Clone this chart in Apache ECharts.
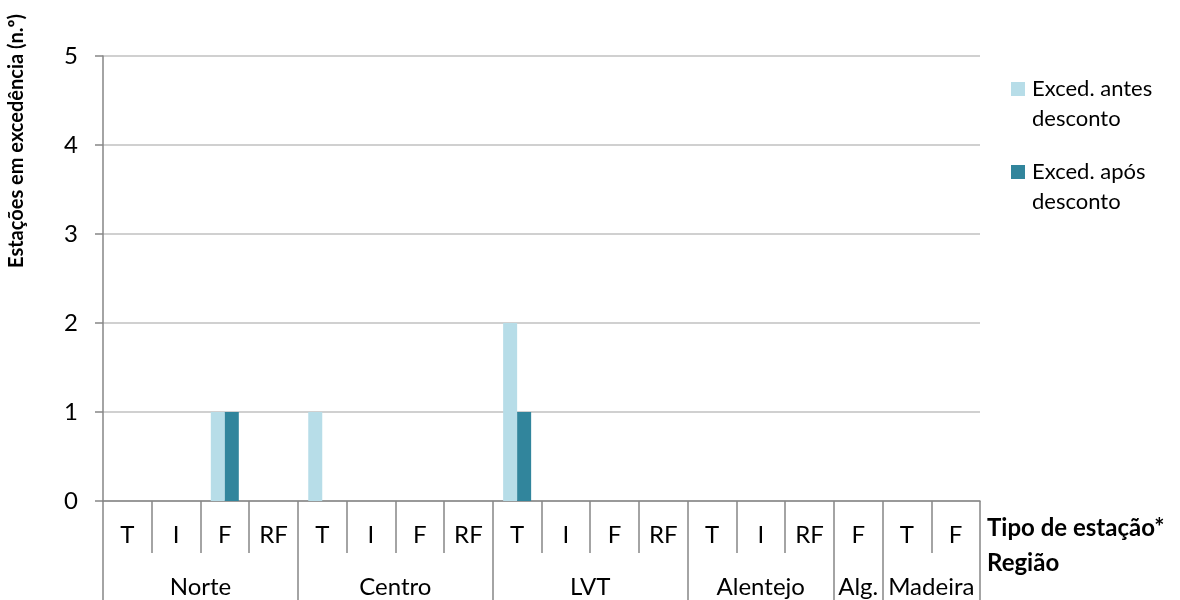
<!DOCTYPE html>
<html>
<head>
<meta charset="utf-8">
<script src="https://cdn.jsdelivr.net/npm/echarts@6/dist/echarts.min.js"></script>
<style>
  html, body { margin: 0; padding: 0; background: #ffffff; }
  #chart { width: 1180px; height: 600px; }
</style>
</head>
<body>
<div id="chart"></div>
<script>
// Station types (lower category row), grouped by region
const stationTypes = ['T', 'I', 'F', 'RF', 'T', 'I', 'F', 'RF', 'T', 'I', 'F', 'RF', 'T', 'I', 'RF', 'F', 'T', 'F'];
const regions = ['Norte', 'Centro', 'LVT', 'Alentejo', 'Alg.', 'Madeira'];
const regionSizes = [4, 4, 4, 3, 1, 2];

// Stations in exceedance (n.º)
const excedAntes = [0, 0, 1, 0, 1, 0, 0, 0, 2, 0, 0, 0, 0, 0, 0, 0, 0, 0];
const excedApos  = [0, 0, 1, 0, 0, 0, 0, 0, 1, 0, 0, 0, 0, 0, 0, 0, 0, 0];

const yTicks = [0, 1, 2, 3, 4, 5];

// Region boundaries and centres on the 0..N category scale
const regionBounds = [0];
const regionCentres = [];
regionSizes.forEach(function (s) {
  const start = regionBounds[regionBounds.length - 1];
  regionCentres.push(start + s / 2);
  regionBounds.push(start + s);
});

const FONT = 'Lato';
const AXIS_GREY = '#868686';
const GRID_GREY = '#c0c0c0';

const chart = echarts.init(document.getElementById('chart'), null, { renderer: 'canvas' });

chart.setOption({
  animation: false,
  textStyle: { fontFamily: FONT, color: '#000' },
  grid: { left: 103, right: 200, top: 56, bottom: 99, containLabel: false },
  legend: {
    orient: 'vertical',
    left: 1011,
    top: 44,
    padding: 0,
    itemWidth: 14,
    itemHeight: 14,
    itemGap: -7,
    icon: 'rect',
    selectedMode: false,
    // a leading blank line keeps the swatch level with the first text line
    formatter: function (name) { return ' \n' + name; },
    textStyle: { fontFamily: FONT, fontSize: 22, color: '#000', lineHeight: 30, padding: [0, 0, 0, 2] },
    data: ['Exced. antes\ndesconto', 'Exced. após\ndesconto']
  },
  xAxis: [
    {
      type: 'category',
      data: stationTypes,
      boundaryGap: true,
      axisLine: { show: true, lineStyle: { color: AXIS_GREY, width: 1.5 } },
      axisTick: { show: true, interval: 0, length: 52, lineStyle: { color: AXIS_GREY, width: 1.5 } },
      axisLabel: { interval: 0, margin: 22, fontFamily: FONT, fontSize: 24, color: '#000' }
    },
    {
      type: 'value',
      min: 0,
      max: stationTypes.length,
      position: 'bottom',
      offset: 52,
      axisLine: { show: false },
      splitLine: { show: false },
      axisTick: { show: true, length: 48, customValues: regionBounds, lineStyle: { color: AXIS_GREY, width: 1.5 } },
      axisLabel: {
        margin: 22,
        fontFamily: FONT,
        fontSize: 24,
        color: '#000',
        customValues: regionCentres,
        formatter: function (v) {
          const i = regionCentres.indexOf(v);
          return i >= 0 ? regions[i] : '';
        }
      }
    }
  ],
  yAxis: {
    type: 'value',
    min: yTicks[0],
    max: yTicks[yTicks.length - 1],
    interval: 1,
    axisLine: { show: true, lineStyle: { color: AXIS_GREY, width: 1.5 } },
    axisTick: { show: true, length: 8, lineStyle: { color: AXIS_GREY, width: 1.5 } },
    axisLabel: { margin: 25, fontFamily: FONT, fontSize: 24, color: '#000' },
    splitLine: { show: true, lineStyle: { color: GRID_GREY, width: 1.5 } }
  },
  series: [
    {
      name: 'Exced. antes\ndesconto',
      type: 'bar',
      xAxisIndex: 0,
      data: excedAntes,
      barWidth: 14,
      barGap: '0%',
      itemStyle: { color: '#b7dde8' }
    },
    {
      name: 'Exced. após\ndesconto',
      type: 'bar',
      xAxisIndex: 0,
      data: excedApos,
      barWidth: 14,
      barGap: '0%',
      itemStyle: { color: '#31859c' }
    }
  ],
  graphic: [
    {
      type: 'text',
      x: 17,
      y: 141,
      rotation: Math.PI / 2,
      style: {
        text: 'Estações em excedência (n.º)',
        fontFamily: FONT,
        fontWeight: 'bold',
        fontSize: 20,
        fill: '#000',
        align: 'center',
        verticalAlign: 'middle'
      }
    },
    {
      type: 'text',
      x: 987,
      y: 528,
      style: {
        text: 'Tipo de estação*',
        fontFamily: FONT,
        fontWeight: 'bold',
        fontSize: 24,
        fill: '#000',
        align: 'left',
        verticalAlign: 'middle'
      }
    },
    {
      type: 'text',
      x: 987,
      y: 563,
      style: {
        text: 'Região',
        fontFamily: FONT,
        fontWeight: 'bold',
        fontSize: 24,
        fill: '#000',
        align: 'left',
        verticalAlign: 'middle'
      }
    }
  ]
});
</script>
</body>
</html>
